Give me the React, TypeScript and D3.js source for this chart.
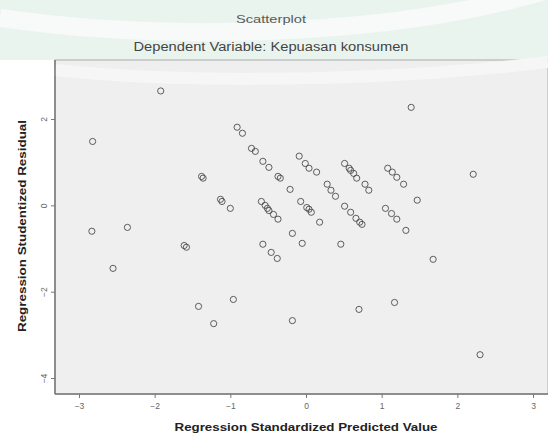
import { useEffect, useRef } from "react";
import * as d3 from "d3";

// standardized predicted value (x) / studentized residual (y)
const predicted = [
  -1.92, -2.82, -2.83, -2.36, -2.55, -1.61, -1.58, -1.42, -1.22, -0.96,
  -0.18, 0.7, 1.17, 1.68, 2.3, 1.39, 2.21, 1.47, 1.32, -0.91,
  -0.84, -0.72, -0.67, -0.57, -0.49, -0.37, -0.34, -0.21, -1.38, -1.36,
  -1.13, -1.11, -1.0, -0.59, -0.54, -0.51, -0.49, -0.43, -0.37, -0.18,
  -0.57, -0.46, -0.38, -0.09, -0.01, 0.04, 0.14, -0.07, 0.01, 0.04,
  0.07, 0.18, -0.05, 0.28, 0.33, 0.39, 0.51, 0.57, 0.59, 0.63,
  0.67, 0.78, 0.83, 0.51, 0.59, 0.66, 0.71, 0.74, 0.46, 1.08,
  1.14, 1.2, 1.29, 1.05, 1.13, 1.2,
];
const residual = [
  2.65, 1.48, -0.6, -0.51, -1.46, -0.93, -0.97, -2.34, -2.74, -2.18,
  -2.67, -2.41, -2.25, -1.25, -3.46, 2.27, 0.72, 0.12, -0.58, 1.81,
  1.67, 1.32, 1.25, 1.02, 0.88, 0.67, 0.63, 0.37, 0.67, 0.63,
  0.14, 0.09, -0.07, 0.09, 0.0, -0.07, -0.12, -0.21, -0.32, -0.65,
  -0.9, -1.09, -1.23, 1.14, 0.97, 0.86, 0.77, 0.09, -0.05, -0.09,
  -0.16, -0.39, -0.88, 0.49, 0.35, 0.21, 0.97, 0.86, 0.81, 0.74,
  0.63, 0.49, 0.35, -0.02, -0.16, -0.3, -0.39, -0.44, -0.9, 0.86,
  0.77, 0.65, 0.49, -0.07, -0.19, -0.32,
];
const xTicks = [-3, -2, -1, 0, 1, 2, 3];
const yTicks = [2, 0, -2, -4];

const W = 548;
const H = 434;
const plot = { left: 55, right: 548, top: 60, bottom: 394 };
const FONT = "Liberation Sans, Arial, sans-serif";

export default function App() {
  const ref = useRef<SVGSVGElement>(null);

  useEffect(() => {
    const svg = d3.select(ref.current);
    svg.selectAll("*").remove();

    const x = d3.scaleLinear().domain([-3.317, 3.198]).range([plot.left, plot.right]);
    const y = d3.scaleLinear().domain([-4.37, 3.367]).range([plot.bottom, plot.top]);

    // page background with faint watermark
    svg.append("rect").attr("width", W).attr("height", H).attr("fill", "#ffffff");
    svg.append("rect").attr("width", W).attr("height", plot.top).attr("fill", "#eaf4ef");
    svg
      .append("path")
      .attr("d", "M0,18 C150,40 380,40 548,-10")
      .attr("fill", "none")
      .attr("stroke", "#f7faf8")
      .attr("stroke-width", 18);

    const label = (txt: string, cx: number, cy: number, len: number, size: number, fill: string, bold = false, rotate = false) => {
      const t = svg
        .append("text")
        .attr("transform", `translate(${cx},${cy})${rotate ? " rotate(-90)" : ""}`)
        .attr("text-anchor", "middle")
        .attr("textLength", len)
        .attr("lengthAdjust", "spacingAndGlyphs")
        .style("font-family", FONT)
        .style("font-size", `${size}px`)
        .style("fill", fill)
        .text(txt);
      if (bold) t.style("font-weight", "bold");
      return t;
    };

    label("Scatterplot", 271, 23, 70, 11.5, "#5a5a5a");
    label("Dependent Variable: Kepuasan konsumen", 271, 51, 275, 12.5, "#444");

    svg
      .append("rect")
      .attr("x", plot.left)
      .attr("y", plot.top)
      .attr("width", plot.right - plot.left)
      .attr("height", plot.bottom - plot.top)
      .attr("fill", "#efefef")
      .attr("stroke", "#aaa")
      .attr("stroke-width", 1);

    // faint watermark band inside the plot
    svg
      .append("path")
      .attr("d", `M${plot.left},70 C200,85 400,80 548,62`)
      .attr("fill", "none")
      .attr("stroke", "#f6f6f6")
      .attr("stroke-width", 12);

    const g = svg.append("g");

    g.append("g")
      .attr("transform", `translate(0,${plot.bottom})`)
      .call(d3.axisBottom(x).tickValues(xTicks).tickSize(4).tickFormat(d3.format("d")))
      .call((a) => a.select(".domain").remove())
      .call((a) => a.selectAll("line").attr("stroke", "#777"))
      .call((a) =>
        a
          .selectAll("text")
          .attr("dy", "0.9em")
          .style("font-family", FONT)
          .style("font-size", "8.5px")
          .style("fill", "#666")
      );

    const yAxis = g
      .append("g")
      .attr("transform", `translate(${plot.left},0)`)
      .call(d3.axisLeft(y).tickValues(yTicks).tickSize(4).tickFormat(d3.format("d")));
    yAxis.select(".domain").remove();
    yAxis.selectAll("line").attr("stroke", "#777");
    yAxis
      .selectAll("text")
      .attr("x", 0)
      .attr("dy", 0)
      .attr("transform", "translate(-8,0) rotate(-90)")
      .attr("text-anchor", "middle")
      .style("font-family", FONT)
      .style("font-size", "8.5px")
      .style("fill", "#666");

    g.append("line")
      .attr("x1", plot.left)
      .attr("x2", plot.left)
      .attr("y1", plot.top)
      .attr("y2", plot.bottom)
      .attr("stroke", "#777")
      .attr("stroke-width", 1.5);
    g.append("line")
      .attr("x1", plot.left)
      .attr("x2", plot.right)
      .attr("y1", plot.bottom)
      .attr("y2", plot.bottom)
      .attr("stroke", "#777")
      .attr("stroke-width", 1.5);

    label("Regression Standardized Predicted Value", 306, 431, 263, 11.5, "#222", true);
    label("Regression Studentized Residual", 26, 226, 212, 11.5, "#222", true, true);

    g.selectAll("circle.pt")
      .data(predicted.map((p, i) => ({ p, r: residual[i] })))
      .enter()
      .append("circle")
      .attr("class", "pt")
      .attr("cx", (d) => x(d.p))
      .attr("cy", (d) => y(d.r))
      .attr("r", 3.1)
      .attr("fill", "none")
      .attr("stroke", "#444")
      .attr("stroke-opacity", 0.85)
      .attr("stroke-width", 1);
  }, []);

  return (
    <svg
      ref={ref}
      width={W}
      height={H}
      style={{ position: "absolute", left: 0, top: 0, display: "block" }}
    />
  );
}
